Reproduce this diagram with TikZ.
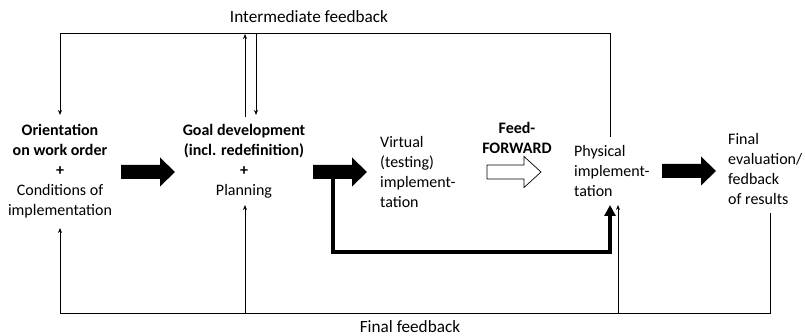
\documentclass[tikz,border=0pt]{standalone}
\usepackage{fontspec}
\setmainfont{Carlito}
\usetikzlibrary{arrows.meta}
\begin{document}
\begin{tikzpicture}[x=1pt,y=-1pt,
  lbl/.style={font=\fontsize{16}{20}\selectfont, inner sep=0pt, align=center},
  lbll/.style={lbl, align=left},
  fblbl/.style={font=\fontsize{17.2}{20}\selectfont, inner sep=0pt},
  fb/.style={line width=0.9pt},
  fbarrow/.style={fb, -{Stealth[length=5pt,width=4pt]}},
  thickconn/.style={line width=3.2pt, -{Triangle[length=11pt,width=11pt]}},
  pics/barrow/.style={code={\path[pic actions] (0,-7) -- (39,-7) -- (39,-14.5) -- (54,0) -- (39,14.5) -- (39,7) -- (0,7) -- cycle;}},
  pics/harrow/.style={code={\path[pic actions] (0,-7) -- (37,-7) -- (37,-15.5) -- (54,0) -- (37,15.5) -- (37,7) -- (0,7) -- cycle;}}
]
\useasboundingbox (0,0) rectangle (806,336);

% labels
\node[lbl] (orient) at (60,171) {\textbf{Orientation}\\\textbf{on work order}\\\textbf{+}\\Conditions of\\implementation};
\node[lbl] (goal) at (244,161) {\textbf{Goal development}\\\textbf{(incl. redefinition)}\\\textbf{+}\\Planning};
\node[lbll, anchor=west] (virt) at (380,172) {Virtual\\(testing)\\implement-\\tation};
\node[lbl] (ff) at (517,138) {\textbf{Feed-}\\\textbf{FORWARD}};
\node[lbll, anchor=west] (phys) at (574,171) {Physical\\implement-\\tation};
\node[lbll, anchor=west] (final) at (728,169) {Final\\evaluation/\\fedback\\of results};
\node[fblbl] (ifb) at (309,17) {Intermediate feedback};
\node[fblbl, anchor=base] (ffb) at (410,333) {Final feedback};

% block arrows
\pic[fill=black] at (121,172) {barrow};
\pic[fill=black] at (313,172) {barrow};
\pic[draw=black, fill=white, line width=0.7pt] at (487,172) {harrow};
\pic[fill=black] at (662,171) {barrow};

% coordinates
\coordinate (physT) at (610,137);
\coordinate (topL) at (60,33);
\coordinate (orientT) at (60,115);
\coordinate (goalDownT) at (256,33);
\coordinate (goalDownB) at (256,115);
\coordinate (goalUpB) at (245,117);
\coordinate (goalUpT) at (245,34);
\coordinate (finalB) at (770,213);
\coordinate (botL) at (60,313);
\coordinate (orientB) at (60,228);
\coordinate (goalBotS) at (245,313);
\coordinate (goalB) at (245,205);
\coordinate (physBotS) at (618,313);
\coordinate (physB) at (618,205);
\coordinate (thickS) at (333,172);
\coordinate (thickE) at (610,205);

% intermediate feedback
\draw[fb] (physT) |- (topL);
\draw[fbarrow] (topL) -- (orientT);
\draw[fbarrow] (goalDownT) -- (goalDownB);
\draw[fbarrow] (goalUpB) -- (goalUpT);

% final feedback
\draw[fb] (finalB) |- (botL);
\draw[fbarrow] (botL) -- (orientB);
\draw[fbarrow] (goalBotS) -- (goalB);
\draw[fbarrow] (physBotS) -- (physB);

% thick connector
\draw[thickconn] (thickS) -- (333,252) -| (thickE);
\end{tikzpicture}
\end{document}
